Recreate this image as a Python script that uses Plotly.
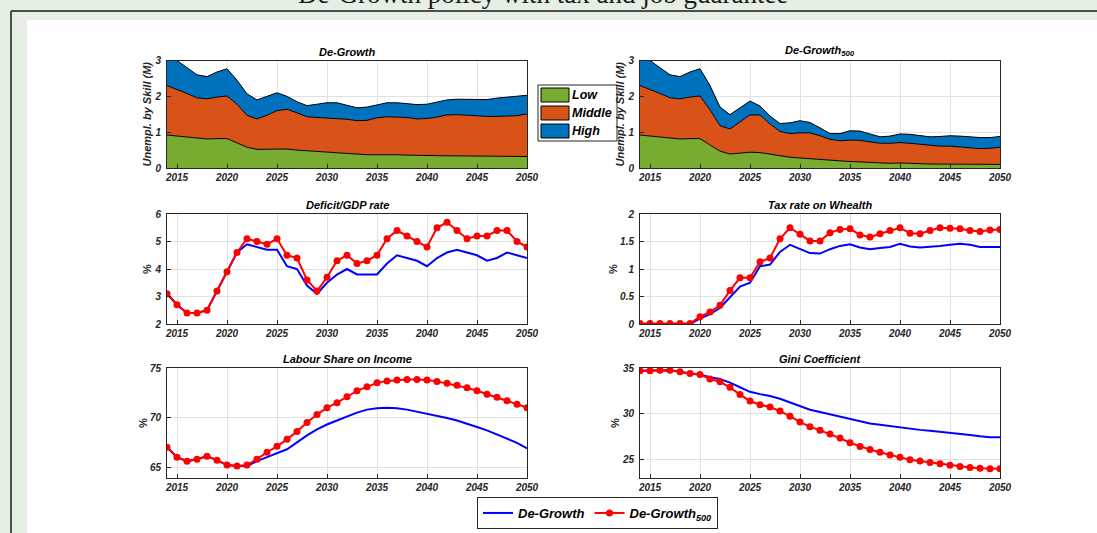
import plotly.graph_objects as go

# ---------------- data ----------------
years = list(range(2014, 2051))
x_ticks = [2015, 2020, 2025, 2030, 2035, 2040, 2045, 2050]

skill_labels = ["Low", "Middle", "High"]
skill_colors = ["#77AC30", "#D95319", "#0072BD"]

# Unemployment by skill, De-Growth (millions)
low_dg = [0.92, 0.89, 0.86, 0.83, 0.81, 0.82, 0.82, 0.70, 0.58, 0.52, 0.52, 0.54, 0.53, 0.50, 0.48, 0.47, 0.46,
          0.44, 0.41, 0.38, 0.37, 0.37, 0.38, 0.37, 0.36, 0.35, 0.34, 0.34, 0.34, 0.34, 0.34, 0.34, 0.34, 0.34,
          0.33, 0.33, 0.32]
middle_dg = [1.38, 1.31, 1.22, 1.13, 1.12, 1.16, 1.19, 1.08, 0.89, 0.85, 0.95, 1.06, 1.11, 1.04, 0.95, 0.94, 0.94,
             0.95, 0.95, 0.94, 0.96, 1.03, 1.05, 1.05, 1.05, 1.02, 1.04, 1.08, 1.14, 1.15, 1.13, 1.11, 1.10, 1.10,
             1.12, 1.13, 1.19]
high_dg = [0.70, 0.80, 0.72, 0.64, 0.62, 0.70, 0.76, 0.67, 0.60, 0.53, 0.53, 0.50, 0.36, 0.31, 0.31, 0.36, 0.42,
           0.43, 0.39, 0.36, 0.37, 0.37, 0.39, 0.40, 0.39, 0.40, 0.40, 0.41, 0.42, 0.43, 0.44, 0.45, 0.47, 0.51,
           0.53, 0.54, 0.52]

# Unemployment by skill, De-Growth 500 (millions)
low_500 = [0.92, 0.89, 0.86, 0.83, 0.81, 0.82, 0.82, 0.64, 0.47, 0.39, 0.41, 0.44, 0.43, 0.38, 0.33, 0.30, 0.28,
           0.26, 0.23, 0.20, 0.19, 0.18, 0.17, 0.15, 0.13, 0.13, 0.14, 0.14, 0.12, 0.11, 0.11, 0.12, 0.12, 0.11,
           0.11, 0.10, 0.10]
middle_500 = [1.38, 1.31, 1.22, 1.13, 1.12, 1.16, 1.19, 0.98, 0.71, 0.70, 0.87, 1.04, 1.05, 0.85, 0.69, 0.66, 0.70,
              0.72, 0.67, 0.60, 0.57, 0.60, 0.60, 0.57, 0.56, 0.56, 0.57, 0.55, 0.54, 0.51, 0.50, 0.49, 0.46, 0.45,
              0.43, 0.45, 0.48]
high_500 = [0.70, 0.80, 0.72, 0.64, 0.62, 0.70, 0.76, 0.68, 0.52, 0.40, 0.40, 0.39, 0.25, 0.22, 0.22, 0.30, 0.34,
            0.29, 0.22, 0.16, 0.20, 0.26, 0.26, 0.23, 0.18, 0.20, 0.24, 0.25, 0.25, 0.25, 0.27, 0.29, 0.31, 0.30,
            0.31, 0.30, 0.30]

# Deficit / GDP (%)
deficit_dg = [3.1, 2.7, 2.4, 2.4, 2.5, 3.2, 3.9, 4.6, 4.9, 4.8, 4.7, 4.7, 4.1, 4.0, 3.4, 3.1, 3.5, 3.8, 4.0, 3.8,
              3.8, 3.8, 4.2, 4.5, 4.4, 4.3, 4.1, 4.4, 4.6, 4.7, 4.6, 4.5, 4.3, 4.4, 4.6, 4.5, 4.4]
deficit_500 = [3.1, 2.7, 2.4, 2.4, 2.5, 3.2, 3.9, 4.6, 5.1, 5.0, 4.9, 5.1, 4.5, 4.4, 3.6, 3.2, 3.7, 4.3, 4.5, 4.2,
               4.3, 4.5, 5.1, 5.4, 5.2, 5.0, 4.8, 5.5, 5.7, 5.4, 5.1, 5.2, 5.2, 5.4, 5.4, 5.0, 4.8]

# Tax rate on wealth (%)
tax_dg = [0.0, 0.0, 0.0, 0.0, 0.0, 0.0, 0.10, 0.18, 0.29, 0.48, 0.68, 0.75, 1.05, 1.08, 1.31, 1.44, 1.36, 1.29,
          1.28, 1.36, 1.42, 1.45, 1.39, 1.36, 1.38, 1.40, 1.46, 1.41, 1.39, 1.40, 1.42, 1.44, 1.46, 1.44, 1.40,
          1.40, 1.40]
tax_500 = [0.01, 0.01, 0.01, 0.01, 0.01, 0.01, 0.13, 0.22, 0.34, 0.61, 0.84, 0.84, 1.13, 1.20, 1.55, 1.75, 1.63,
           1.51, 1.51, 1.66, 1.72, 1.73, 1.62, 1.58, 1.64, 1.70, 1.75, 1.65, 1.64, 1.70, 1.75, 1.74, 1.73, 1.70,
           1.68, 1.71, 1.72]

# Labour share on income (%)
labour_dg = [67.0, 66.0, 65.6, 65.8, 66.1, 65.7, 65.2, 65.1, 65.1, 65.6, 66.0, 66.4, 66.8, 67.5, 68.2, 68.8, 69.3,
             69.7, 70.1, 70.5, 70.8, 70.95, 71.0, 70.95, 70.8, 70.6, 70.4, 70.2, 69.95, 69.7, 69.4, 69.05, 68.7,
             68.3, 67.9, 67.45, 66.9]
labour_500 = [67.0, 66.0, 65.6, 65.8, 66.1, 65.7, 65.2, 65.1, 65.2, 65.8, 66.5, 67.1, 67.8, 68.6, 69.5, 70.3, 71.0,
              71.5, 72.1, 72.7, 73.1, 73.5, 73.7, 73.8, 73.85, 73.85, 73.8, 73.65, 73.45, 73.25, 73.0, 72.7, 72.35,
              72.05, 71.7, 71.35, 71.0]

# Gini coefficient (%)
gini_dg = [34.7, 34.7, 34.75, 34.75, 34.6, 34.4, 34.3, 34.0, 33.8, 33.4, 32.9, 32.4, 32.15, 31.95, 31.65, 31.25,
           30.8, 30.45, 30.2, 29.95, 29.65, 29.4, 29.15, 28.95, 28.8, 28.65, 28.5, 28.35, 28.25, 28.15, 28.05,
           27.95, 27.85, 27.7, 27.55, 27.45, 27.45]
gini_500 = [34.7, 34.7, 34.75, 34.75, 34.6, 34.4, 34.3, 33.8, 33.5, 32.9, 32.1, 31.4, 31.0, 30.75, 30.3, 29.75,
            29.1, 28.6, 28.2, 27.8, 27.35, 26.85, 26.45, 26.1, 25.8, 25.5, 25.25, 25.0, 24.85, 24.7, 24.55, 24.4,
            24.25, 24.15, 24.05, 24.0, 24.0]

panel_titles = ["De-Growth", "De-Growth<sub>500</sub>", "Deficit/GDP rate", "Tax rate on Whealth",
                "Labour Share on Income", "Gini Coefficient"]
series_names = ["De-Growth", "De-Growth<sub>500</sub>"]
main_title = "De-Growth policy with tax and job guarantee"

# ---------------- layout helpers ----------------
W, H = 1097, 533


def fx(p):
    return p / W


def fy(p):
    return 1 - p / H


col_x = [(167, 527), (640, 1000)]
row_y = [(60.5, 168), (214, 324), (368, 478)]

FONT = "Liberation Sans, Arial, sans-serif"
TXT = "#262626"
tick_font = dict(family=FONT, size=10, color=TXT, weight="bold", style="italic")

fig = go.Figure()

# stacked areas
for ax, comps in (("", (low_dg, middle_dg, high_dg)), ("2", (low_500, middle_500, high_500))):
    for vals, col in zip(comps, skill_colors):
        fig.add_trace(go.Scatter(
            x=years, y=vals, mode="lines", stackgroup="s" + ax,
            line=dict(color="black", width=1), fillcolor=col,
            xaxis="x" + ax, yaxis="y" + ax, showlegend=False, hoverinfo="skip"))

# line panels
pairs = [(deficit_dg, deficit_500), (tax_dg, tax_500), (labour_dg, labour_500), (gini_dg, gini_500)]
for i, (dg, d5) in enumerate(pairs):
    n = str(i + 3)
    first = i == 0
    fig.add_trace(go.Scatter(
        x=years, y=dg, mode="lines", name="<b><i>" + series_names[0] + "</i></b>",
        line=dict(color="#0000FF", width=2), xaxis="x" + n, yaxis="y" + n,
        legendgroup="dg", showlegend=first))
    fig.add_trace(go.Scatter(
        x=years, y=d5, mode="lines+markers", name="<b><i>" + series_names[1] + "</i></b>",
        line=dict(color="#FF0000", width=2), marker=dict(color="#FF0000", size=7, symbol="circle"),
        xaxis="x" + n, yaxis="y" + n, legendgroup="d5", showlegend=first))

y_ranges = [[0, 3], [0, 3], [2, 6], [0, 2], [63.9, 75], [23, 35]]
y_dticks = [1, 1, 1, 0.5, 5, 5]
y_titles = ["Unempl. by Skill (M)", "Unempl. by Skill (M)", "%", "%", "%", "%"]

layout = dict(
    width=W, height=H, margin=dict(l=0, r=0, t=0, b=0, pad=0, autoexpand=False),
    paper_bgcolor="#E6EFE3", plot_bgcolor="white",
    showlegend=True,
    legend=dict(
        x=fx(477), y=fy(497), xanchor="left", yanchor="top", orientation="h",
        bgcolor="white", bordercolor=TXT, borderwidth=1,
        font=dict(family=FONT, size=13, color="black"),
        itemwidth=30, tracegroupgap=0, traceorder="normal"),
)

for i in range(6):
    r, c = divmod(i, 2)
    n = "" if i == 0 else str(i + 1)
    x0, x1 = col_x[c]
    y0, y1 = row_y[r]
    layout["xaxis" + n] = dict(
        domain=[fx(x0), fx(x1)], anchor="y" + n, range=[2014, 2050], automargin=False,
        tickmode="array", tickvals=x_ticks, ticktext=[str(t) for t in x_ticks],
        showline=True, linecolor=TXT, linewidth=1, mirror=True,
        ticks="inside", ticklen=4, tickcolor=TXT,
        showgrid=True, gridcolor="#E1E1E1", gridwidth=1, zeroline=False,
        tickfont=tick_font)
    layout["yaxis" + n] = dict(
        domain=[fy(y1), fy(y0)], anchor="x" + n, range=y_ranges[i], automargin=False,
        dtick=y_dticks[i], tick0=0, ticklabelstandoff=3,
        showline=True, linecolor=TXT, linewidth=1, mirror=True,
        ticks="inside", ticklen=4, tickcolor=TXT,
        showgrid=True, gridcolor="#E1E1E1", gridwidth=1, zeroline=False,
        tickfont=tick_font,
        title=dict(text=y_titles[i], standoff=0,
                   font=dict(family=FONT, size=11, color=TXT, weight="bold",
                             style="italic" if i < 2 else "normal")))

annotations = []
for i in range(6):
    r, c = divmod(i, 2)
    x0, x1 = col_x[c]
    y0, y1 = row_y[r]
    annotations.append(dict(
        xref="paper", yref="paper", x=fx((x0 + x1) / 2), y=fy(y0 - 1),
        xanchor="center", yanchor="bottom", showarrow=False,
        text=panel_titles[i],
        font=dict(family=FONT, size=11, color="black", weight="bold", style="italic")))

# main title (cut at top of the page)
annotations.append(dict(
    xref="paper", yref="paper", x=fx(543), y=fy(-6), xanchor="center", yanchor="middle",
    showarrow=False, text=main_title,
    font=dict(family="Liberation Serif, serif", size=27, color="#1a1a1a")))

shapes = [
    dict(type="rect", xref="paper", yref="paper", x0=fx(27), x1=1, y0=0, y1=fy(20),
         fillcolor="white", line=dict(width=0), layer="below"),
    dict(type="line", xref="paper", yref="paper", x0=fx(11), x1=fx(11), y0=0, y1=fy(11),
         line=dict(color="#1a1a1a", width=1.5), layer="below"),
    dict(type="line", xref="paper", yref="paper", x0=fx(11), x1=1, y0=fy(11), y1=fy(11),
         line=dict(color="#1a1a1a", width=1.5), layer="below"),
]

# skill legend (drawn as a boxed key)
shapes.append(dict(type="rect", xref="paper", yref="paper", x0=fx(538), x1=fx(617), y0=fy(141), y1=fy(85),
                   fillcolor="white", line=dict(color=TXT, width=1)))
key_rows = [(88, 102), (106, 120), (124, 138)]
for (ky0, ky1), lab, col in zip(key_rows, skill_labels, skill_colors):
    shapes.append(dict(type="rect", xref="paper", yref="paper", x0=fx(541), x1=fx(569),
                       y0=fy(ky1), y1=fy(ky0), fillcolor=col, line=dict(color="black", width=1)))
    annotations.append(dict(
        xref="paper", yref="paper", x=fx(570), y=fy((ky0 + ky1) / 2), xanchor="left", yanchor="middle",
        showarrow=False, text=lab,
        font=dict(family=FONT, size=12.5, color="black", weight="bold", style="italic")))

layout["annotations"] = annotations
layout["shapes"] = shapes
fig.update_layout(**layout)

fig.write_html("out.html", config=dict(displayModeBar=False),
               post_script="document.documentElement.style.margin='0px';"
                           "document.body.style.margin='0px';document.body.style.overflow='hidden';")
